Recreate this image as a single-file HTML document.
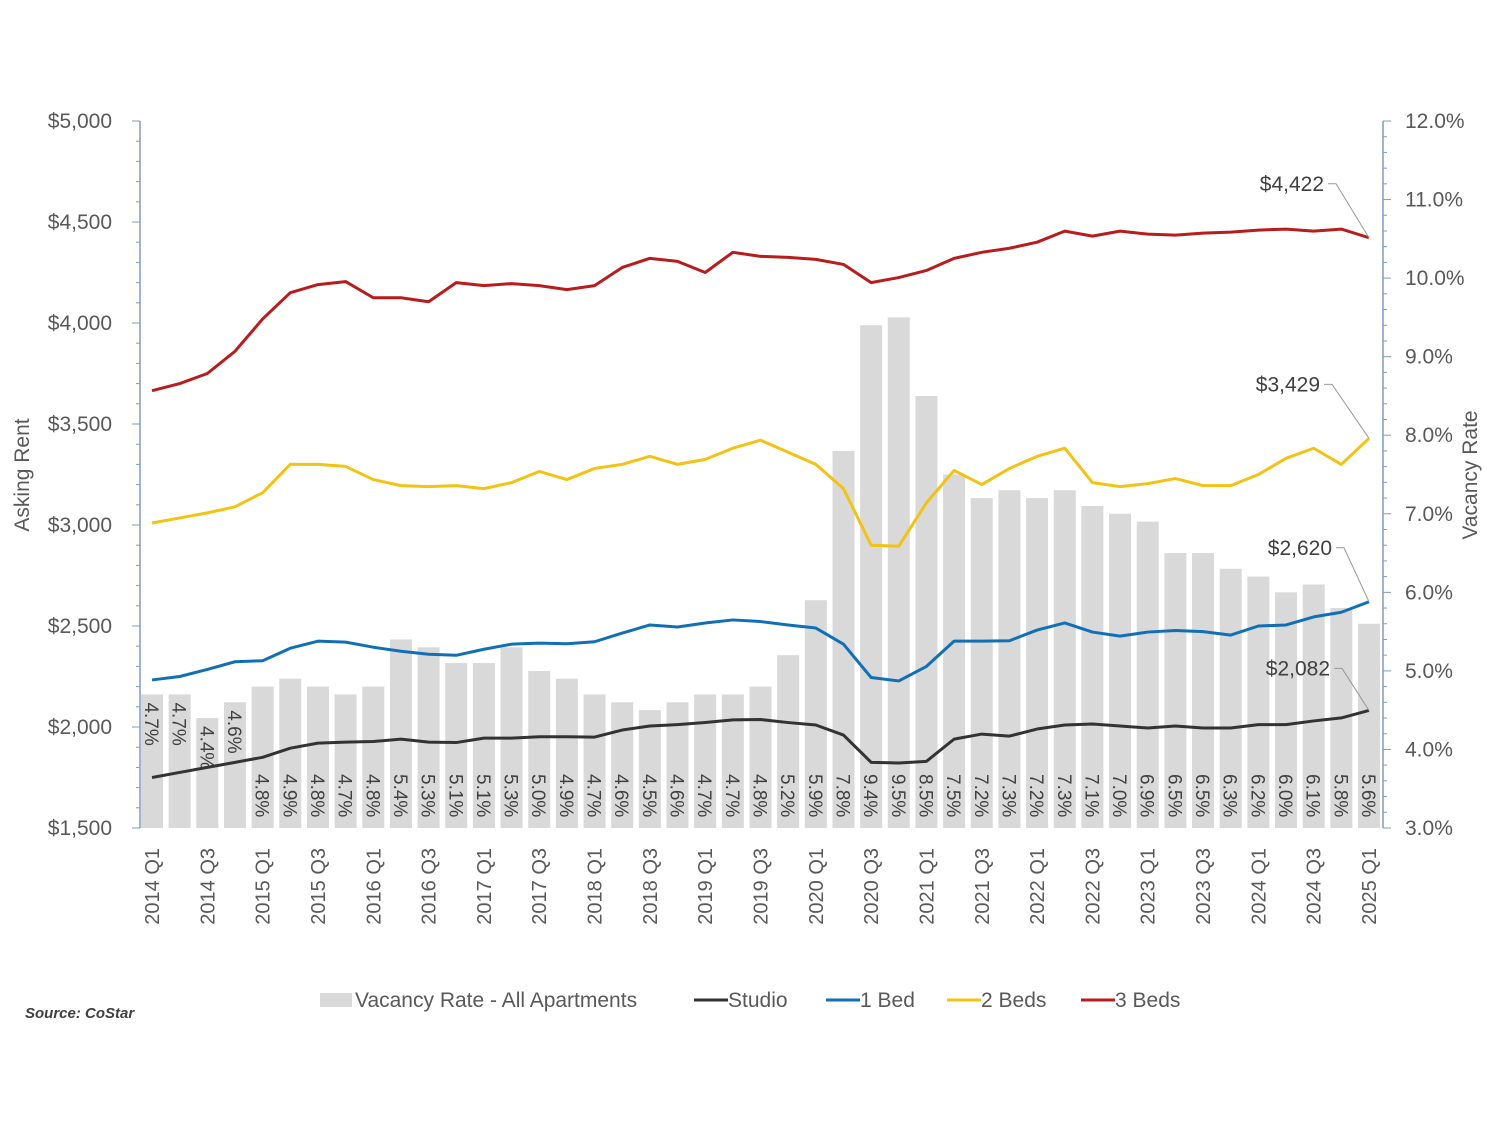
<!DOCTYPE html>
<html><head><meta charset="utf-8"><style>
body{margin:0;background:#fff;}
svg{font-family:"Liberation Sans",sans-serif;}
</style></head><body>
<svg id="c" width="1500" height="1125" viewBox="0 0 1500 1125"></svg>
<script>
const categories=[];
for(let y=2014;y<=2025;y++)for(let q=1;q<=4;q++){if(y===2025&&q>1)break;categories.push(y+' Q'+q);}
const vacancy=[4.7,4.7,4.4,4.6,4.8,4.9,4.8,4.7,4.8,5.4,5.3,5.1,5.1,5.3,5.0,4.9,4.7,4.6,4.5,4.6,4.7,4.7,4.8,5.2,5.9,7.8,9.4,9.5,8.5,7.5,7.2,7.3,7.2,7.3,7.1,7.0,6.9,6.5,6.5,6.3,6.2,6.0,6.1,5.8,5.6];
const studio=[1750,1775,1800,1825,1850,1895,1920,1925,1928,1940,1925,1923,1945,1945,1952,1952,1950,1985,2005,2012,2022,2035,2037,2022,2010,1960,1825,1822,1830,1940,1965,1955,1990,2010,2015,2005,1995,2005,1995,1995,2012,2012,2030,2045,2082];
const bed1=[2233,2250,2285,2323,2328,2390,2425,2420,2395,2375,2360,2355,2385,2410,2415,2412,2422,2465,2505,2495,2515,2530,2522,2505,2490,2410,2245,2228,2300,2425,2425,2427,2480,2515,2470,2450,2470,2478,2472,2455,2500,2505,2545,2568,2620];
const bed2=[3010,3035,3060,3090,3160,3300,3300,3290,3225,3195,3190,3195,3180,3210,3265,3225,3280,3300,3340,3300,3325,3380,3420,3360,3300,3180,2900,2895,3110,3270,3200,3280,3340,3380,3210,3190,3205,3230,3195,3195,3250,3330,3380,3300,3429];
const bed3=[3665,3700,3750,3860,4020,4150,4190,4205,4125,4125,4105,4200,4185,4195,4185,4165,4185,4275,4320,4305,4250,4350,4330,4325,4315,4290,4200,4225,4260,4320,4350,4370,4400,4455,4430,4455,4440,4435,4445,4450,4460,4465,4455,4465,4422];
const leftTicks=[1500,2000,2500,3000,3500,4000,4500,5000];
const rightTicks=[3,4,5,6,7,8,9,10,11,12];

const svg=document.getElementById('c');const NS='http://www.w3.org/2000/svg';
function el(t,a,p){const e=document.createElementNS(NS,t);for(const k in a)e.setAttribute(k,a[k]);(p||svg).appendChild(e);return e;}
const yTop=121,yBot=828,xL=140,xR=1383;
const yL=v=>yBot-(v-1500)/3500*(yBot-yTop);
const yR=v=>yBot-(v-3)/9*(yBot-yTop);
const xC=i=>152+i*(1369-152)/(categories.length-1);
const grey='#595959';
vacancy.forEach((v,i)=>{
  const r=el('rect',{x:xC(i)-11,y:yR(v),width:22,height:yBot-yR(v),fill:'#d9d9d9'});
  
  
  const ty=i<4?yR(v)+8:774;
  const t=el('text',{transform:`translate(${xC(i)-7},${ty}) rotate(90)`,'font-size':19,fill:'#404040'});
  t.textContent=v.toFixed(1)+'%';
  
  
});
el('line',{x1:xL,y1:yTop,x2:xL,y2:yBot,stroke:'#7f9bbf','stroke-width':1.5});
el('line',{x1:xR,y1:yTop,x2:xR,y2:yBot,stroke:'#7f9bbf','stroke-width':1.5});
for(let v=1500;v<=5000;v+=100){const y=yL(v);el('line',{x1:xL-(v%500?4:8),y1:y,x2:xL,y2:y,stroke:'#7f9bbf'});}
for(let k=0;k<=45;k++){const v=3+k*0.2;const y=yR(v);el('line',{x1:xR,y1:y,x2:xR+(k%5===0?8:4),y2:y,stroke:'#7f9bbf'});}
leftTicks.forEach(v=>{const t=el('text',{x:112,y:yL(v)+7,'text-anchor':'end','font-size':21,fill:grey});t.textContent='$'+v.toLocaleString('en-US');

});
rightTicks.forEach(v=>{const t=el('text',{x:1405,y:yR(v)+7,'font-size':21,fill:grey});t.textContent=v.toFixed(1)+'%';

});
categories.forEach((c,i)=>{if(i%2)return;const t=el('text',{transform:`translate(${xC(i)+7},848) rotate(-90)`,'text-anchor':'end','font-size':20,fill:grey});t.textContent=c;

});
let t=el('text',{transform:'translate(29,475) rotate(-90)','text-anchor':'middle','font-size':21,fill:grey});t.textContent='Asking Rent';

t=el('text',{transform:'translate(1477,475) rotate(-90)','text-anchor':'middle','font-size':21,fill:grey});t.textContent='Vacancy Rate';

const series=[[studio,'#333333','studio-line'],[bed1,'#1170b5','one-bed-line'],[bed2,'#f2c314','two-beds-line'],[bed3,'#b81c1c','three-beds-line']];
series.forEach(([d,col,name])=>{
  const p=el('polyline',{points:d.map((v,i)=>xC(i)+','+yL(v)).join(' '),fill:'none',stroke:col,'stroke-width':3,'stroke-linejoin':'round'});
  
  
  const last=d[d.length-1],lx=xC(d.length-1),ly=yL(last);
  const cy=ly-(name==='studio-line'?42:54);
  const tx=name==='two-beds-line'?1320:name==='one-bed-line'?1332:name==='studio-line'?1330:1324;
  el('polyline',{points:`${tx+4},${cy} ${tx+12},${cy} ${lx},${ly}`,fill:'none',stroke:'#999','stroke-width':1});
  const lab=el('text',{x:tx,y:cy+7,'text-anchor':'end','font-size':21,fill:'#404040'});
  lab.textContent='$'+last.toLocaleString('en-US');
  
  
});
const lg=el('g',{});
el('rect',{x:320,y:993,width:32,height:14,fill:'#d9d9d9'},lg);
const items=[[355,'Vacancy Rate - All Apartments',null],[728,'Studio','#333333'],[860,'1 Bed','#1170b5'],[981,'2 Beds','#f2c314'],[1115,'3 Beds','#b81c1c']];
items.forEach(([x,txt,col])=>{
  if(col)el('line',{x1:x-34,y1:1000,x2:x,y2:1000,stroke:col,'stroke-width':3},lg);
  const tt=el('text',{x:x,y:1007,'font-size':21,fill:grey},lg);tt.textContent=txt;
  
  
});
t=el('text',{x:25,y:1018,'font-size':15,'font-style':'italic','font-weight':'bold',fill:'#404040'});t.textContent='Source: CoStar';

</script>
</body></html>
